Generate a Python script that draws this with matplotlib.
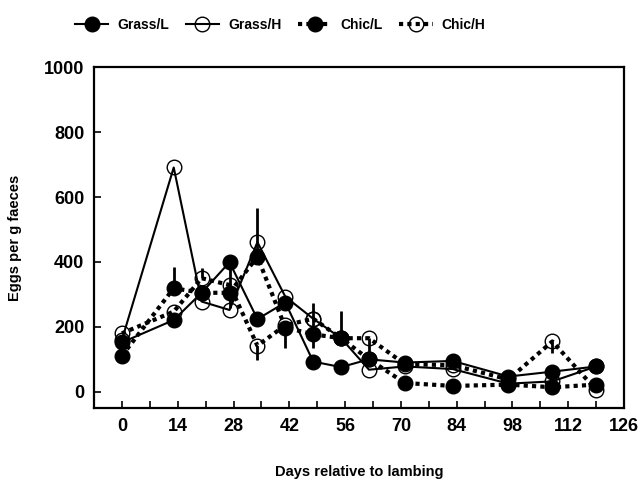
import numpy as np
import matplotlib
matplotlib.use("Agg")
import matplotlib.pyplot as plt

plt.rcParams["font.family"] = ["Liberation Sans", "DejaVu Sans"]
plt.rcParams["font.weight"] = "bold"

# sampling days relative to lambing
days = [0, 13, 20, 27, 34, 41, 48, 55, 62, 71, 83, 97, 108, 119]

grass_l = [152, 221, 305, 399, 224, 275, 93, 76, 100, 90, 95, 47, 62, 78]
grass_h = [160, 691, 278, 252, 461, 293, 225, 165, 68, 78, 70, 25, 32, 78]
chic_l = [111, 319, 305, 305, 416, 198, 177, 165, 100, 27, 18, 22, 14, 22]
chic_h = [180, 247, 350, 329, 142, 205, 225, 165, 165, 85, 82, 38, 155, 6]

# one-sided error bars (lower, upper), zero where none drawn
grass_l_err = [[0, 0, 0, 140, 0, 0, 0, 0, 0, 0, 0, 0, 0, 0],
               [0, 0, 0, 0, 0, 0, 0, 0, 0, 0, 0, 0, 0, 0]]
grass_h_err = [[0] * 14, [0] * 14]
chic_l_err = [[0, 0, 0, 0, 0, 63, 42, 0, 0, 0, 0, 0, 0, 0],
              [0, 66, 0, 0, 150, 0, 98, 85, 0, 0, 0, 0, 0, 0]]
chic_h_err = [[0, 0, 0, 0, 44, 0, 0, 0, 65, 0, 0, 0, 35, 0],
              [0, 0, 30, 0, 0, 0, 0, 0, 0, 0, 0, 0, 0, 0]]

fig = plt.figure(figsize=(6.44, 4.8), dpi=100)
ax = fig.add_axes([0.146, 0.150, 0.823, 0.710])

dash = (0, (1.0, 1.0))
series = [
    ("Grass/L", grass_l, grass_l_err, "-", "black", 1.5),
    ("Grass/H", grass_h, grass_h_err, "-", "white", 1.5),
    ("Chic/L", chic_l, chic_l_err, dash, "black", 3.0),
    ("Chic/H", chic_h, chic_h_err, dash, "white", 3.0),
]

handles = []
for name, vals, err, ls, face, lw in series:
    ax.errorbar(days, vals, yerr=err, fmt="none", ecolor="black",
                elinewidth=2, capsize=0, zorder=2)
    h, = ax.plot(days, vals, linestyle=ls, color="black", linewidth=lw,
                 dash_capstyle="butt",
                 marker="o", markersize=10.5, markerfacecolor=face,
                 markeredgecolor="black", markeredgewidth=1.0,
                 fillstyle="full" if face == "black" else "none", label=name,
                 zorder=3)
    handles.append(h)

ax.set_xlim(-7, 126)
ax.set_ylim(-50, 1000)
ax.set_xticks(np.arange(0, 127, 14))
ax.set_xticks(np.arange(7, 127, 14), minor=True)
ax.set_yticks(np.arange(0, 1001, 200))
ax.tick_params(axis="both", which="both", direction="in", length=5, width=1.2,
               labelsize=13, pad=7)
for lab in ax.get_xticklabels() + ax.get_yticklabels():
    lab.set_fontweight("bold")

for sp in ax.spines.values():
    sp.set_linewidth(1.6)

ax.set_xlabel("Days relative to lambing", fontsize=10.5, fontweight="bold",
              labelpad=22)
ax.set_ylabel("Eggs per g faeces", fontsize=10.5, fontweight="bold",
              labelpad=16)

fig.legend(handles=handles, loc="center", bbox_to_anchor=(0.435, 0.948),
           ncol=4, frameon=False, handlelength=2.4, handletextpad=0.65,
           columnspacing=1.2, prop={"weight": "bold", "size": 10})

fig.savefig("out.png", dpi=100)
